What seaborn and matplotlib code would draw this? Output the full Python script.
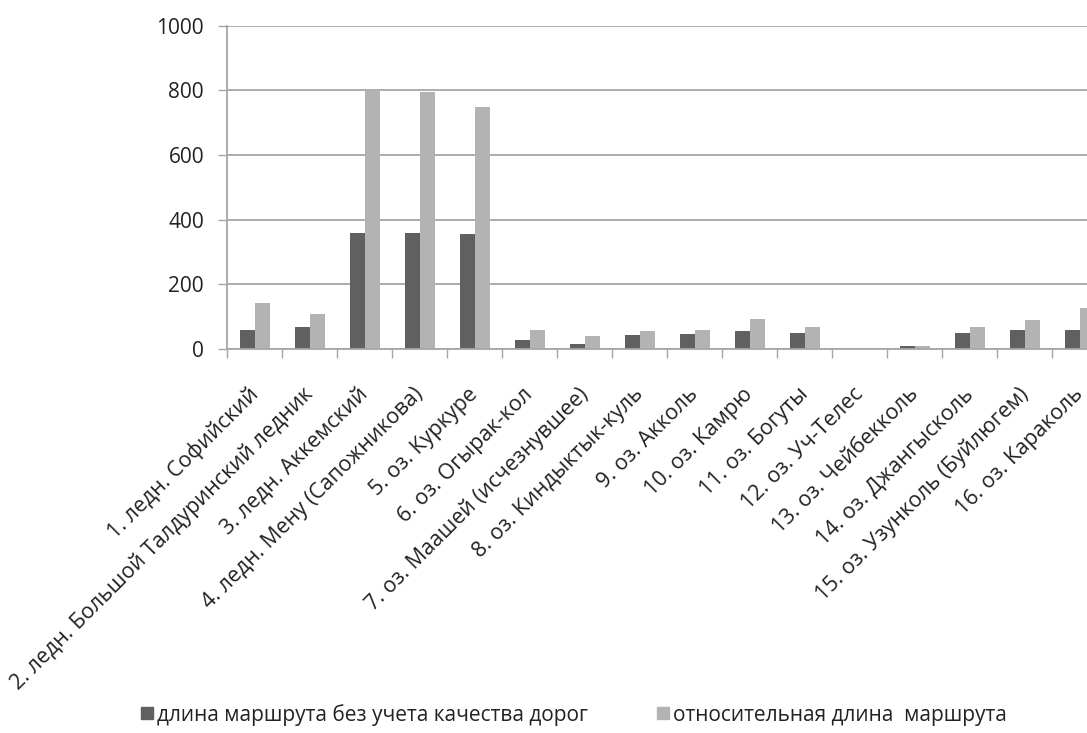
import numpy as np
import pandas as pd
import matplotlib
matplotlib.use("Agg")
import matplotlib.pyplot as plt
import matplotlib.transforms as mtransforms
import seaborn as sns
from matplotlib.lines import Line2D

categories = [
    "1. ледн. Софийский",
    "2. ледн. Большой Талдуринский ледник",
    "3. ледн. Аккемский",
    "4. ледн. Мену (Сапожникова)",
    "5. оз. Куркуре",
    "6. оз. Огырак-кол",
    "7. оз. Маашей (исчезнувшее)",
    "8. оз. Киндыктык-куль",
    "9. оз. Акколь",
    "10. оз. Камрю",
    "11. оз. Богуты",
    "12. оз. Уч-Телес",
    "13. оз. Чейбекколь",
    "14. оз. Джангысколь",
    "15. оз. Узунколь (Буйлюгем)",
    "16. оз. Караколь",
]
series_names = ["длина маршрута без учета качества дорог", "относительная длина  маршрута"]
length_plain = [59, 67, 360, 360, 354, 29, 17, 43, 47, 55, 51, 0, 9, 51, 58, 58]
length_relative = [143, 109, 800, 793, 748, 59, 40, 56, 58, 93, 67, 0, 8, 67, 89, 127]
y_ticks = [0, 200, 400, 600, 800, 1000]

colors = ["#606060", "#b3b3b3"]

df = pd.DataFrame({
    "cat": categories * 2,
    "val": length_plain + length_relative,
    "series": [series_names[0]] * len(categories) + [series_names[1]] * len(categories),
})

sns.set_style("white")
plt.rcParams["font.family"] = ["Open Sans", "DejaVu Sans"]

fig = plt.figure(figsize=(10.87, 7.33), dpi=100)
ax = fig.add_axes([227 / 1087, 1 - 349 / 733, 880 / 1087, 323.5 / 733])

sns.barplot(data=df, x="cat", y="val", hue="series", palette=colors,
            width=30 / 55, gap=0, ax=ax, legend=False, saturation=1,
            linewidth=0)

ax.set_xlim(-0.5, len(categories) - 0.5)
ax.set_ylim(0, 1000)
ax.set_yticks(y_ticks)
ax.set_yticklabels([str(t) for t in y_ticks], fontsize=15, color="#222222")
ax.yaxis.grid(True, color="#a6a6a6", linewidth=1.3)
ax.set_axisbelow(True)
ax.set_xlabel("")
ax.set_ylabel("")

for s in ["top", "right"]:
    ax.spines[s].set_visible(False)
for s in ["left", "bottom"]:
    ax.spines[s].set_visible(True)
    ax.spines[s].set_color("#a6a6a6")
    ax.spines[s].set_linewidth(1.3)

ax.tick_params(axis="y", which="major", length=6.5, width=1, color="#a6a6a6",
               direction="out", left=True, pad=10)
ax.set_xticks(np.arange(len(categories)))
ax.set_xticklabels(categories, rotation=45, ha="right", va="top",
                   rotation_mode="anchor", fontsize=15.5, color="#222222")
ax.tick_params(axis="x", which="major", length=0, pad=25)
offset = mtransforms.ScaledTranslation(-7 / 100, 0, fig.dpi_scale_trans)
for lbl in ax.get_xticklabels():
    lbl.set_transform(lbl.get_transform() + offset)
ax.set_xticks(np.arange(-0.5, len(categories), 1), minor=True)
ax.tick_params(axis="x", which="minor", length=6.5, width=1, color="#a6a6a6",
               direction="out", bottom=True)

handles = [Line2D([0], [0], marker="s", linestyle="none", markersize=9,
                  markerfacecolor=c, markeredgecolor=c) for c in colors]
fig.legend(handles, series_names, loc="center", bbox_to_anchor=(0.527, 0.025),
           ncol=2, frameon=False, fontsize=15, columnspacing=3.2,
           handletextpad=0.1, handlelength=0.8, labelcolor="#222222")

fig.savefig("out.png", dpi=100)
